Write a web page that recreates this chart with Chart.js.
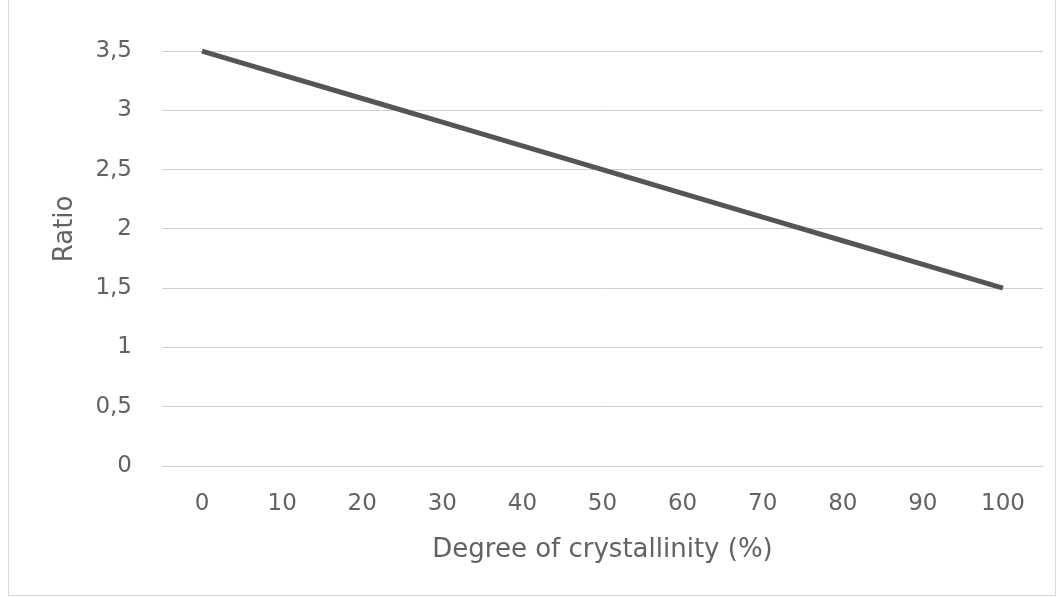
<!DOCTYPE html>
<html>
<head>
<meta charset="utf-8">
<script src="https://cdn.jsdelivr.net/npm/chart.js@4/dist/chart.umd.min.js"></script>
<style>
  html, body { margin: 0; padding: 0; background: #fff; overflow: hidden; }
  #wrap { position: relative; width: 1060px; height: 597px; overflow: hidden; }
  #frame { position: absolute; left: 8px; top: -10px; width: 1046px; height: 604px; border: 1px solid #d9d9d9; }
  #chart { position: absolute; left: 0; top: -52px; }
</style>
</head>
<body>
<div id="wrap">
  <div id="frame"></div>
  <canvas id="chart" width="1060" height="649"></canvas>
</div>
<script>
// values
const crystallinity = ['0', '10', '20', '30', '40', '50', '60', '70', '80', '90', '100'];
const ratio = [3.5, 3.3, 3.1, 2.9, 2.7, 2.5, 2.3, 2.1, 1.9, 1.7, 1.5];
const yMin = 0;
const yMax = 4;
const yStep = 0.5;

const labelColor = '#626262';
const font = '"DejaVu Sans", "Open Sans", sans-serif';

new Chart(document.getElementById('chart'), {
  type: 'line',
  data: {
    labels: crystallinity,
    datasets: [{
      data: ratio,
      borderColor: '#555555',
      borderWidth: 5,
      pointRadius: 0,
      tension: 0,
      fill: false
    }]
  },
  options: {
    responsive: false,
    animation: false,
    // the top of the plot (value 4) sits just above the page, as in the cropped original
    layout: { padding: { left: 0, right: 17, top: 40, bottom: 31 } },
    plugins: { legend: { display: false }, tooltip: { enabled: false } },
    scales: {
      x: {
        offset: true,
        grid: { display: false, drawTicks: false },
        border: { display: false },
        ticks: { color: labelColor, padding: 24, font: { family: font, size: 23 } },
        title: { display: true, text: 'Degree of crystallinity (%)', color: labelColor, padding: 0, font: { family: font, size: 26 } },
        afterFit: function(axis) { axis.height = 100; }
      },
      y: {
        min: yMin,
        max: yMax,
        ticks: {
          stepSize: yStep,
          color: labelColor,
          padding: 30,
          font: { family: font, size: 23 },
          callback: v => String(v).replace('.', ',')
        },
        grid: { color: '#d0d0d0', lineWidth: 1, drawTicks: false },
        border: { display: false },
        title: { display: true, text: 'Ratio', color: labelColor, padding: { top: 50, bottom: 0 }, font: { family: font, size: 26 } },
        afterFit: function(axis) { axis.width = 162; }
      }
    }
  }
});
</script>
</body>
</html>
